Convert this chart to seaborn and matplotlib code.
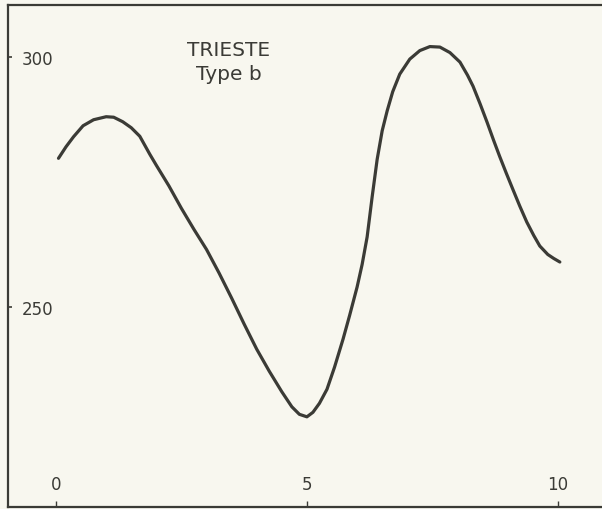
import matplotlib
matplotlib.use("Agg")
import matplotlib.pyplot as plt
import seaborn as sns
import pandas as pd

# Data
x_vals = [0.05, 0.2, 0.35, 0.54, 0.75, 1.0, 1.15, 1.33, 1.5, 1.67, 1.87, 2.0,
          2.25, 2.5, 2.75, 3.0, 3.25, 3.5, 3.75, 4.0, 4.25, 4.5, 4.7, 4.85,
          5.0, 5.12, 5.25, 5.4, 5.55, 5.72, 5.85, 6.0, 6.1, 6.2, 6.3, 6.4,
          6.5, 6.6, 6.71, 6.85, 7.05, 7.25, 7.45, 7.65, 7.85, 8.05, 8.2,
          8.31, 8.45, 8.59, 8.72, 8.84, 8.97, 9.1, 9.24, 9.38, 9.52, 9.64,
          9.8, 9.92, 10.04]
y_vals = [279.7, 282.0, 284.0, 286.2, 287.4, 288.0, 287.9, 287.0, 285.8, 284.1,
          280.5, 278.3, 274.2, 269.7, 265.5, 261.5, 256.8, 251.8, 246.6, 241.6,
          237.2, 233.1, 230.1, 228.6, 228.1, 229.0, 230.8, 233.6, 238.0, 243.6,
          248.3, 254.0, 258.5, 264.0, 272.0, 279.5, 285.2, 289.2, 293.0, 296.5,
          299.5, 301.2, 302.0, 301.9, 300.8, 298.9, 296.3, 294.1, 290.6, 286.9,
          283.3, 280.1, 276.8, 273.6, 270.2, 267.0, 264.3, 262.2, 260.5, 259.7,
          259.0]
x_ticks = [0, 5, 10]
y_ticks = [250, 300]
title_lines = ["TRIESTE", "Type b"]

sns.set_theme(style="white")
plt.rcParams['font.family'] = ['DejaVu Sans']

bg = "#f8f7ef"
ink = "#3b3b36"

fig = plt.figure(figsize=(6.02, 5.10), dpi=100, facecolor=bg)
ax = fig.add_axes([8/602, 2/510, 594/602, 502/510])
ax.set_facecolor(bg)

df = pd.DataFrame({"x": x_vals, "y": y_vals})
sns.lineplot(data=df, x="x", y="y", ax=ax, color=ink, linewidth=2.3, sort=False)

ax.set_xlim(-0.956, 10.88)
ax.set_ylim(210.1, 310.3)
ax.set_xticks(x_ticks)
ax.set_yticks(y_ticks)
ax.set_xlabel("")
ax.set_ylabel("")

for side in ["left", "top", "bottom"]:
    ax.spines[side].set_visible(True)
    ax.spines[side].set_color(ink)
    ax.spines[side].set_linewidth(1.6)
ax.spines["right"].set_visible(False)

ax.tick_params(axis="y", direction="in", length=3, width=1.2, color=ink,
               pad=-10, labelsize=12, labelcolor=ink, left=True)
ax.tick_params(axis="x", direction="in", length=4, width=1.0, color=ink,
               pad=-10, labelsize=12, labelcolor=ink, bottom=True)
for lab in ax.get_yticklabels():
    lab.set_horizontalalignment("left")
for lab in ax.get_xticklabels():
    lab.set_verticalalignment("bottom")

fig.text(229/602, 1 - 50/510, title_lines[0], ha="center", va="center",
         fontsize=14.5, color=ink)
fig.text(229/602, 1 - 75/510, title_lines[1], ha="center", va="center",
         fontsize=14.5, color=ink)

fig.savefig("out.png", dpi=100, facecolor=bg)
